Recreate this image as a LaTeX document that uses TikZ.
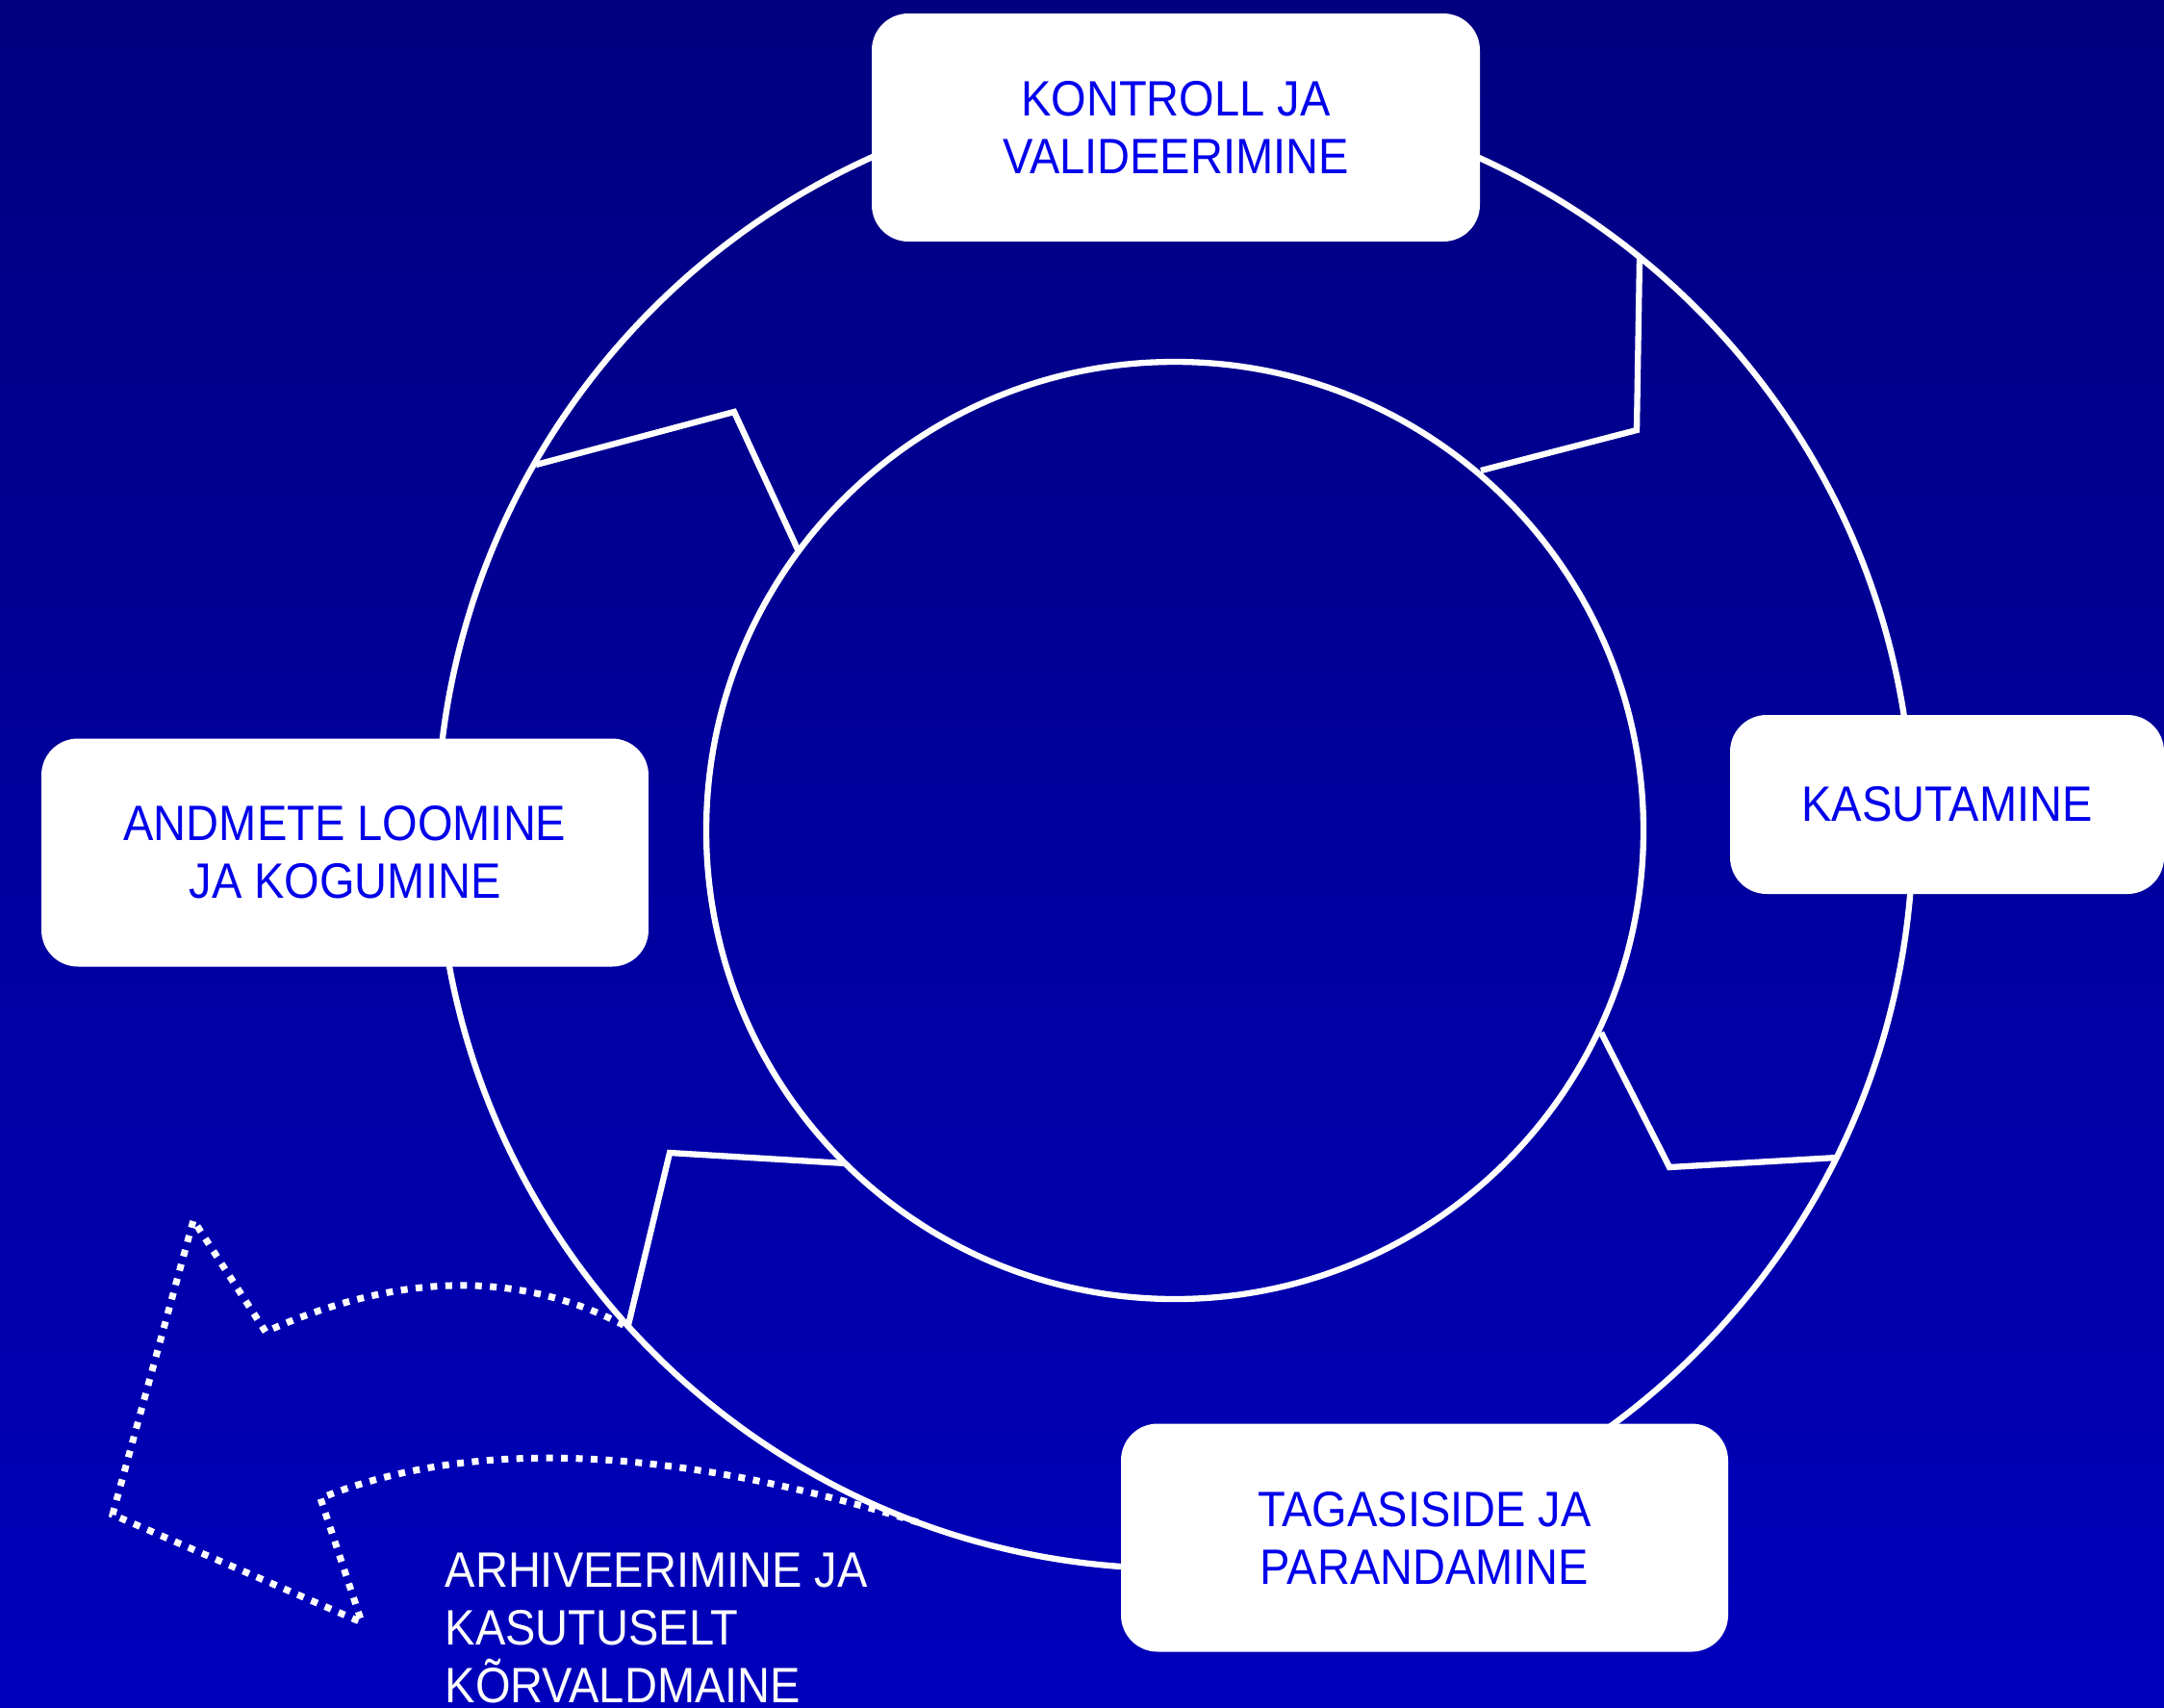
\documentclass[tikz,border=0pt]{standalone}
\usepackage{fontspec}
\setmainfont{Liberation Sans}[FakeStretch=0.91]
\definecolor{bgtop}{RGB}{0,0,128}
\definecolor{bgbottom}{RGB}{0,0,188}
\definecolor{stagetext}{RGB}{0,0,235}
\newcommand{\stagefont}{\fontsize{14.7}{17.1}\selectfont}

\begin{document}
\begin{tikzpicture}[scale=0.1]
	\tikzstyle{every node}+=[inner sep=0pt]
	\tikzstyle{ring}=[white, line width=1.8pt]
	\tikzstyle{stage}=[fill=white, rounded corners=0.38cm, text=stagetext, align=center, font=\stagefont]
	\useasboundingbox (0,0) rectangle (224.9,-177.4);
	\shade [top color=bgtop, bottom color=bgbottom] (0,0) rectangle (224.9,-177.4);
	\draw [ring] (122.1,-86.3) circle (76.7);
	\draw [ring] (122.1,-86.3) circle (48.7);
	\draw [ring] (170.4,-26.8) -- (170.1,-44.7) -- (153.9,-48.9);
	\draw [ring] (166.4,-107.3) -- (173.5,-121.3) -- (190.9,-120.3);
	\draw [ring] (87.9,-120.9) -- (69.6,-119.8) -- (65.3,-137.7);
	\draw [ring] (55.7,-48.3) -- (76.3,-42.8) -- (82.9,-57.1);
	\draw [white, line width=2pt, dash pattern=on 2pt off 2.4pt] (95.4,-158.2) .. controls (69.6,-150.2) and (48.9,-149.4) .. (33.3,-155.7) -- (37.6,-168.6) -- (11.7,-157.4) -- (20.1,-126.8) -- (27.6,-138.4) .. controls (41.5,-132.2) and (53.8,-132) .. (64.8,-137.7);
	\node [stage, minimum width=6.32cm, minimum height=2.37cm] (kontroll) at (122.2,-13.25) {KONTROLL JA\\VALIDEERIMINE};
	\node [stage, minimum width=4.51cm, minimum height=1.86cm] (kasutamine) at (202.35,-83.6) {KASUTAMINE};
	\node [stage, minimum width=6.31cm, minimum height=2.37cm] (tagasiside) at (148.05,-159.8) {TAGASISIDE JA\\PARANDAMINE};
	\node [stage, minimum width=6.31cm, minimum height=2.37cm] (loomine) at (35.85,-88.6) {ANDMETE LOOMINE\\JA KOGUMINE};
	\node [white, font=\stagefont, align=left, anchor=north west] (arhiveerimine) at (46.2,-161.35) {ARHIVEERIMINE JA\\KASUTUSELT\\KÕRVALDMAINE};
\end{tikzpicture}
\end{document}
